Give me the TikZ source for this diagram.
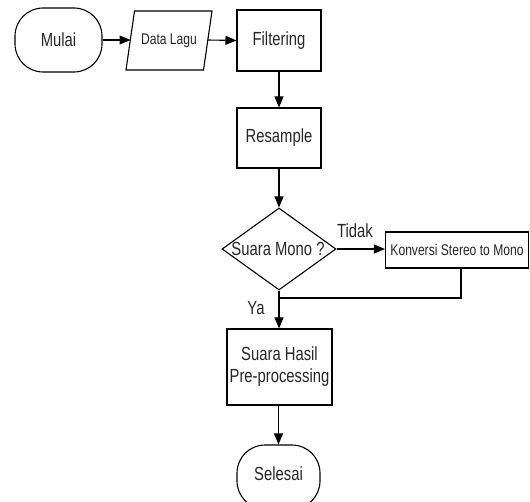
\documentclass[tikz,border=0pt]{standalone}
\usepackage{fontspec}
\setmainfont{Liberation Sans}[FakeStretch=0.78]
\usetikzlibrary{shapes.geometric,arrows.meta}
\begin{document}
\begin{tikzpicture}[x=1pt,y=-1pt,
  line width=1.1pt,
  txt/.style={font=\fontsize{19}{22}\selectfont, text=black!85, inner sep=0pt},
  small/.style={font=\fontsize{15.5}{18}\selectfont, text=black!85, inner sep=0pt},
  box/.style={draw, rectangle, inner sep=0pt, align=center},
  term/.style={draw, rectangle, rounded corners=28pt, inner sep=0pt},
  arr/.style={-{Triangle[length=11pt,width=9pt]}},
]
\useasboundingbox (0,0) rectangle (530,502);
% nodes
\node[term, txt, minimum width=87pt, minimum height=64pt] (mulai) at (58.5,40) {Mulai};
\node[small, minimum width=86pt, minimum height=59pt] (data) at (169,40.5) {Data Lagu};
\draw (126,70) -- (134.5,11) -- (212,11) -- (203.5,70) -- cycle;
\node[box, txt, minimum width=84pt, minimum height=61pt] (filt) at (279,40.5) {Filtering};
\node[box, txt, minimum width=84pt, minimum height=60pt] (res) at (279,138) {Resample};
\node[draw, diamond, minimum width=114pt, minimum height=82pt, inner sep=0pt] (dec) at (279,249) {};
\node[txt] (dectxt) at (278,249) {Suara Mono ?};
\node[box, small, minimum width=143pt, minimum height=36pt] (konv) at (457,250) {Konversi Stereo to Mono};
\node[txt] (tidak) at (355,231) {Tidak};
\node[txt] (ya) at (256,308) {Ya};
\node[box, txt, minimum width=105pt, minimum height=76pt] (hasil) at (279.5,367) {Suara Hasil\\Pre-processing};
\node[term, txt, minimum width=83pt, minimum height=64pt] (selesai) at (278.5,477) {\raisebox{6pt}{Selesai}};
\coordinate (join) at (279,298);
% connectors
\draw[arr] (mulai.east) -- (130.5,40);
\draw[arr] (207.5,40) -- (filt.west);
\draw[arr] (filt.south) -- (res.north);
\draw[arr] (res.south) -- (dec.north);
\draw[arr] (dec.east) -- (konv.west |- dec.east);
\draw (konv.south -| 461,0) |- (join);
\draw[arr] (dec.south) -- (hasil.north -| dec.south);
\draw[arr] (hasil.south -| selesai.north) -- (selesai.north);
\end{tikzpicture}
\end{document}
